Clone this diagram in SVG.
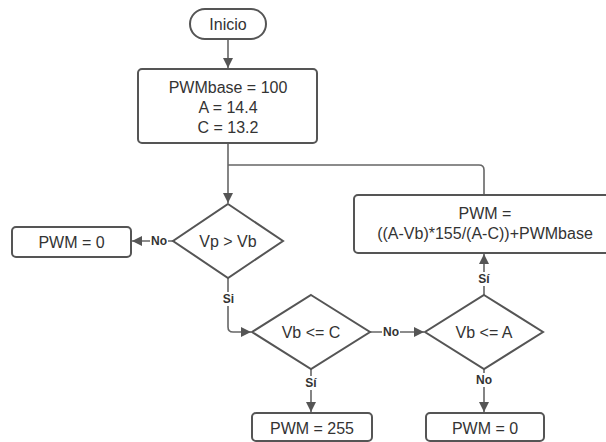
<svg xmlns="http://www.w3.org/2000/svg" width="606" height="442" viewBox="0 0 606 442">
  <style>
    .shape { fill: #ffffff; stroke: #555555; stroke-width: 2; }
    .txt { font-family: "Liberation Sans", Arial, sans-serif; font-size: 16px; fill: #333333; text-anchor: middle; dominant-baseline: central; }
    .lbl { font-family: "Liberation Sans", Arial, sans-serif; font-size: 12px; font-weight: bold; fill: #333333; text-anchor: middle; dominant-baseline: central; }
    .wire { fill: none; stroke: #666666; stroke-width: 1.6; }
    .lblbg { fill: #ffffff; }
  </style>
  <defs>
    <marker id="arrow" viewBox="0 0 10 10" refX="10" refY="5" markerWidth="10" markerHeight="10" markerUnits="userSpaceOnUse" orient="auto">
      <path d="M0,0 L10,5 L0,10 z" fill="#555555"/>
    </marker>
  </defs>
  <rect width="606" height="442" fill="#ffffff"/>

  <!-- connectors -->
  <g id="connectors">
    <path class="wire" d="M228,39 L228,68" marker-end="url(#arrow)"/>
    <path class="wire" d="M228,143 L228,203" marker-end="url(#arrow)"/>
    <path class="wire" d="M228,165 L479,165 Q484,165 484,170 L484,195"/>
    <path class="wire" d="M173,241 L132,241" marker-end="url(#arrow)"/>
    <path class="wire" d="M228,278 L228,327 Q228,332 233,332 L251,332" marker-end="url(#arrow)"/>
    <path class="wire" d="M370,332 L424,332" marker-end="url(#arrow)"/>
    <path class="wire" d="M311,369 L311,412" marker-end="url(#arrow)"/>
    <path class="wire" d="M484,369 L484,412" marker-end="url(#arrow)"/>
    <path class="wire" d="M484,295 L484,254" marker-end="url(#arrow)"/>
    <!-- branch labels -->
    <rect class="lblbg" x="150" y="234" width="18" height="14"/>
    <text class="lbl" x="159" y="241">No</text>
    <rect class="lblbg" x="221" y="292" width="15" height="14"/>
    <text class="lbl" x="228.5" y="299">Si</text>
    <rect class="lblbg" x="382" y="325" width="18" height="14"/>
    <text class="lbl" x="391" y="332">No</text>
    <rect class="lblbg" x="303" y="376" width="16" height="14"/>
    <text class="lbl" x="311" y="383">Sí</text>
    <rect class="lblbg" x="475" y="373" width="18" height="14"/>
    <text class="lbl" x="484" y="380">No</text>
    <rect class="lblbg" x="476" y="272" width="16" height="14"/>
    <text class="lbl" x="484" y="279">Sí</text>
  </g>

  <g id="inicio">
    <rect class="shape" x="190" y="9" width="76" height="30" rx="15" ry="15"/>
    <text class="txt" x="228" y="24">Inicio</text>
  </g>

  <g id="init-values">
    <rect class="shape" x="138" y="69" width="179" height="74" rx="4" ry="4"/>
    <text class="txt" x="228" y="87">PWMbase = 100</text>
    <text class="txt" x="228" y="107">A = 14.4</text>
    <text class="txt" x="228" y="127">C = 13.2</text>
  </g>

  <g id="check-vp">
    <polygon class="shape" points="228,204 283,241 228,278 173,241"/>
    <text class="txt" x="228" y="241">Vp &gt; Vb</text>
  </g>

  <g id="pwm-zero-left">
    <rect class="shape" x="12" y="227" width="119" height="30" rx="4" ry="4"/>
    <text class="txt" x="71.5" y="242">PWM = 0</text>
  </g>

  <g id="check-c">
    <polygon class="shape" points="311,295 370,332 311,369 252,332"/>
    <text class="txt" x="311" y="332">Vb &lt;= C</text>
  </g>

  <g id="check-a">
    <polygon class="shape" points="484,295 543,332 484,369 425,332"/>
    <text class="txt" x="484" y="332">Vb &lt;= A</text>
  </g>

  <g id="pwm-formula">
    <rect class="shape" x="354" y="195" width="262" height="58" rx="4" ry="4"/>
    <text class="txt" x="485" y="213">PWM =</text>
    <text class="txt" x="485" y="233">((A-Vb)*155/(A-C))+PWMbase</text>
  </g>

  <g id="pwm-255">
    <rect class="shape" x="252" y="413" width="120" height="28" rx="4" ry="4"/>
    <text class="txt" x="312" y="428">PWM = 255</text>
  </g>

  <g id="pwm-zero-right">
    <rect class="shape" x="426" y="413" width="118" height="28" rx="4" ry="4"/>
    <text class="txt" x="485" y="428">PWM = 0</text>
  </g>
</svg>
